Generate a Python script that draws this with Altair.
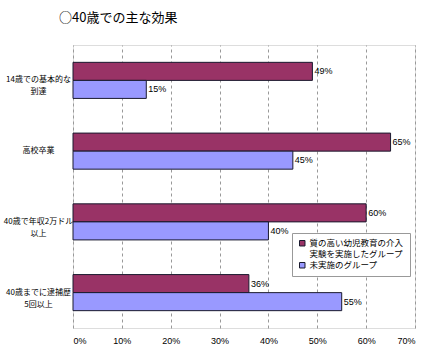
import altair as alt
import pandas as pd

categories = ["14歳での基本的な\n到達", "高校卒業", "40歳で年収2万ドル\n以上", "40歳までに逮捕歴\n5回以上"]
groups = ["質の高い幼児教育の介入\n実験を実施したグループ", "未実施のグループ"]
treated = [49, 65, 60, 36]
untreated = [15, 45, 40, 55]
x_ticks = [0, 10, 20, 30, 40, 50, 60, 70]

rows = []
for c, a, b in zip(categories, treated, untreated):
    rows.append({"cat": c, "group": groups[0], "value": a})
    rows.append({"cat": c, "group": groups[1], "value": b})
df = pd.DataFrame(rows)

JP = "Noto Sans CJK JP"
NUM = "Liberation Sans Narrow, Liberation Sans, sans-serif"

y_enc = alt.Y("cat:N", sort=categories,
              scale=alt.Scale(paddingInner=0.49, paddingOuter=0.245),
              axis=alt.Axis(title=None, labelAlign="center", labelPadding=35,
                            ticks=False, domain=False, labelFont=JP, labelFontSize=8,
                            labelColor="#000", labelLineHeight=12,
                            labelExpr="split(datum.label, '\\n')", labelLimit=0))
yoff = alt.YOffset("group:N", sort=groups, scale=alt.Scale(paddingInner=0, paddingOuter=0))
x_enc = alt.X("value:Q", scale=alt.Scale(domain=[0, 70], nice=False),
              axis=alt.Axis(title=None, values=x_ticks, labelExpr="datum.value + '%'",
                            grid=True, gridDash=[3, 3], gridColor="#999", domain=False,
                            ticks=False, labelPadding=8, labelFont=NUM, labelFontSize=9,
                            labelColor="#000"))

bars = alt.Chart(df).mark_bar(stroke="#1a1a2e", strokeWidth=1).encode(
    y=y_enc, yOffset=yoff, x=x_enc,
    color=alt.Color("group:N", sort=groups,
                    scale=alt.Scale(domain=groups, range=["#993366", "#9999FF"]),
                    legend=alt.Legend(title=None, orient="none", legendX=219, legendY=188,
                                      direction="vertical", fillColor="white",
                                      strokeColor="#999", padding=6, symbolType="square",
                                      symbolSize=30, symbolStrokeColor="#1a1a2e",
                                      symbolStrokeWidth=1, labelFont=JP, labelFontSize=8.5,
                                      labelLimit=0, rowPadding=1, labelOffset=3,
                                      labelExpr="split(datum.label, '\\n')")),
)

labels = alt.Chart(df).transform_calculate(lab="datum.value + '%'").mark_text(
    align="left", baseline="middle", dx=2, font=NUM, fontSize=9, color="#000"
).encode(y=alt.Y("cat:N", sort=categories), yOffset=yoff, x="value:Q", text="lab:N")

chart = alt.layer(bars, labels).properties(
    width=342, height=283,
    autosize=alt.AutoSizeParams(type="none"),
    padding={"left": 73, "top": 45, "right": 13, "bottom": 24},
    title=alt.TitleParams("○40歳での主な効果", anchor="start", frame="group", font=JP,
                          fontSize=13, fontWeight="normal", color="#000", dx=-14, offset=20),
).configure_view(stroke="#888", strokeWidth=1).configure(background="white")

chart.save("out.html", embed_options={"renderer": "svg", "actions": False})
